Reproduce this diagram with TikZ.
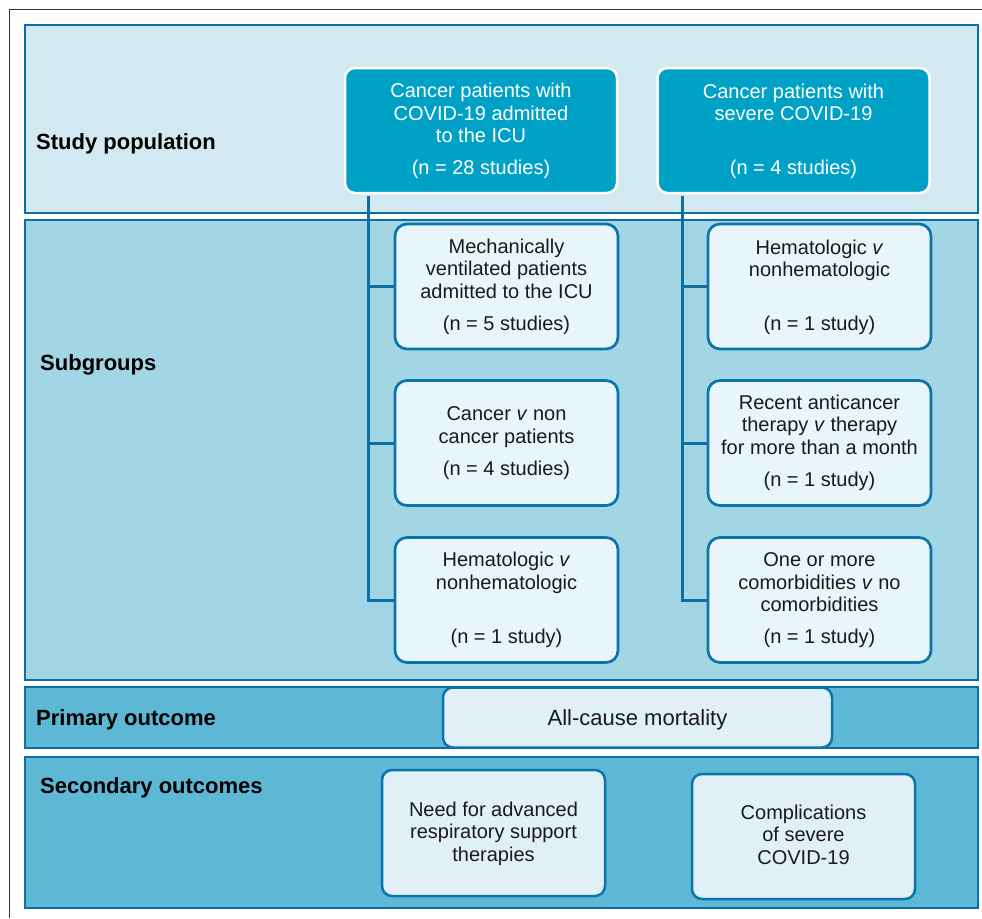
\documentclass[tikz,border=0pt]{standalone}
\usepackage{fontspec}
\setmainfont{Liberation Sans}
\definecolor{bandline}{HTML}{0B6FA4}
\definecolor{bandA}{HTML}{D3E9F1}
\definecolor{bandB}{HTML}{A3D6E4}
\definecolor{bandC}{HTML}{5DB8D6}
\definecolor{topfill}{HTML}{00A1C7}
\definecolor{subfill}{HTML}{E8F5FA}
\definecolor{outfill}{HTML}{E1F0F6}
\definecolor{boxline}{HTML}{0A74AB}
\definecolor{txtcol}{HTML}{1A1A1A}
\definecolor{framecol}{HTML}{333333}
\begin{document}
\begin{tikzpicture}[x=1pt,y=-1pt,
  band/.style={draw=bandline, line width=2.5pt, rectangle, inner sep=0pt, minimum width=953pt},
  topbox/.style={draw=white, line width=2.5pt, fill=topfill, rounded corners=10pt, inner sep=0pt, minimum width=272pt, minimum height=125pt},
  subbox/.style={draw=boxline, line width=2.7pt, fill=subfill, rounded corners=12pt, inner sep=0pt, minimum width=223pt, minimum height=125pt},
  outbox/.style={draw=boxline, line width=2.5pt, fill=outfill, rounded corners=10pt, inner sep=0pt},
  conn/.style={draw=bandline, line width=3pt},
  txt/.style={font=\fontsize{20}{22.4}\selectfont, text=txtcol, align=center, inner sep=0pt, anchor=base},
  toptxt/.style={txt, text=white},
  lab/.style={font=\fontsize{22}{26}\selectfont\bfseries, text=black, inner sep=0pt, anchor=base west}]
\useasboundingbox (0,0) rectangle (982,918);
\fill[white] (0,0) rectangle (982,918);
\draw[framecol, line width=1.3pt] (9.5,918) -- (9.5,9.5) -- (982,9.5);

% bands
\node[band, fill=bandA, minimum height=188pt] (b1) at (501.5,119) {};
\node[band, fill=bandB, minimum height=460pt] (b2) at (501.5,450) {};
\node[band, fill=bandC, minimum height=61pt] (b3) at (501.5,717.5) {};
\node[band, fill=bandC, minimum height=151pt] (b4) at (501.5,832.5) {};

% band labels
\node[lab] (l1) at (36,149) {Study population};
\node[lab] (l2) at (40,370) {Subgroups};
\node[lab] (l3) at (36,725) {Primary outcome};
\node[lab] (l4) at (40,793) {Secondary outcomes};

% top boxes
\node[topbox] (pl) at (481,130.5) {};
\node[topbox] (ps) at (793.5,130.5) {};

% subgroup boxes
\node[subbox] (s11) at (506.5,286.5) {};
\node[subbox] (s12) at (506.5,443) {};
\node[subbox] (s13) at (506.5,600) {};
\node[subbox] (s21) at (819.5,286.5) {};
\node[subbox] (s22) at (819.5,443) {};
\node[subbox] (s23) at (819.5,600) {};

% connectors
\draw[conn] ([xshift=25pt,yshift=-1.3pt]pl.south west) -- ([xshift=25pt]pl.south west |- s13.west) -- (s13.west);
\draw[conn] ([xshift=25pt]pl.south west |- s11.west) -- (s11.west);
\draw[conn] ([xshift=25pt]pl.south west |- s12.west) -- (s12.west);
\draw[conn] ([xshift=26pt,yshift=-1.3pt]ps.south west) -- ([xshift=26pt]ps.south west |- s23.west) -- (s23.west);
\draw[conn] ([xshift=26pt]ps.south west |- s21.west) -- (s21.west);
\draw[conn] ([xshift=26pt]ps.south west |- s22.west) -- (s22.west);

% outcome boxes
\node[outbox, minimum width=389pt, minimum height=60pt] (po) at (637.5,717.5) {};
\node[outbox, minimum width=223pt, minimum height=126pt] (so1) at (493.5,833) {};
\node[outbox, minimum width=223pt, minimum height=125pt] (so2) at (803.5,836.5) {};

% texts top (base anchor = last line)
\node[toptxt] (t1) at (481,142.7) {Cancer patients with\\COVID-19 admitted\\to the ICU};
\node[toptxt] (t1n) at (481,174.3) {(n = 28 studies)};
\node[toptxt] (t2) at (793.5,120.7) {Cancer patients with\\severe COVID-19};
\node[toptxt] (t2n) at (793.5,174.3) {(n = 4 studies)};

% subgroup texts
\node[txt] (u11) at (506.5,298.3) {Mechanically\\ventilated patients\\admitted to the ICU};
\node[txt] (u11n) at (506.5,330.7) {(n = 5 studies)};
\node[txt] (u12) at (506.5,443.3) {Cancer \textit{v} non\\cancer patients};
\node[txt] (u12n) at (506.5,475) {(n = 4 studies)};
\node[txt] (u13) at (506.5,589.3) {Hematologic \textit{v}\\nonhematologic};
\node[txt] (u13n) at (506.5,643.5) {(n = 1 study)};
\node[txt] (u21) at (819.5,276.7) {Hematologic \textit{v}\\nonhematologic};
\node[txt] (u21n) at (819.5,330.7) {(n = 1 study)};
\node[txt] (u22) at (819.5,454.3) {Recent anticancer\\therapy \textit{v} therapy\\for more than a month};
\node[txt] (u22n) at (819.5,486.7) {(n = 1 study)};
\node[txt] (u23) at (819.5,611.7) {One or more\\comorbidities \textit{v} no\\comorbidities};
\node[txt] (u23n) at (819.5,643.5) {(n = 1 study)};

% outcome texts
\node[txt, font=\fontsize{22}{24}\selectfont] (o1) at (637.5,725.5) {All-cause mortality};
\node[txt] (o2) at (493.5,861) {Need for advanced\\respiratory support\\therapies};
\node[txt] (o3) at (803.5,864) {Complications\\of severe\\COVID-19};
\end{tikzpicture}
\end{document}
